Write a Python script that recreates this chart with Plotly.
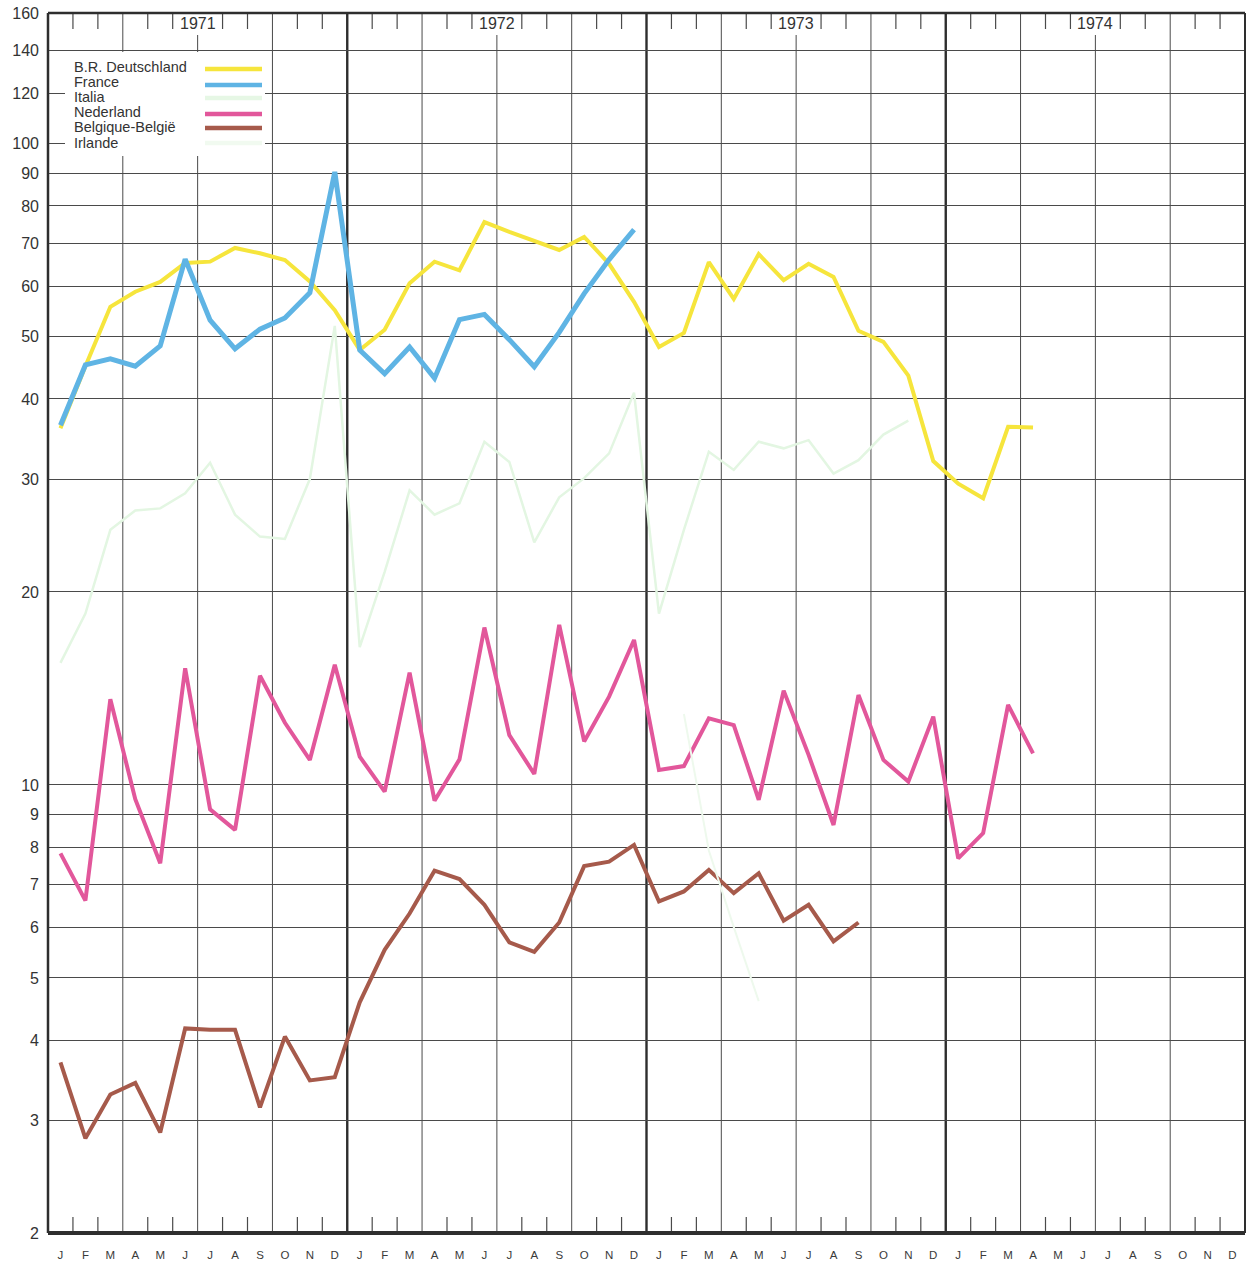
import math
import plotly.graph_objects as go

# ---- data: monthly index values, January 1971 to December 1974 ----
MONTHS = ["J", "F", "M", "A", "M", "J", "J", "A", "S", "O", "N", "D"]
YEARS = ["1971", "1972", "1973", "1974"]

deutschland_1971 = [36.0, 45.0, 55.7, 58.8, 60.9, 65.2, 65.5, 68.8, 67.5, 65.9, 61.0, 55.0]
deutschland_1972 = [47.7, 51.3, 60.6, 65.5, 63.5, 75.5, 72.9, 70.6, 68.3, 71.6, 65.0, 56.7]
deutschland_1973 = [48.2, 50.7, 65.4, 57.3, 67.3, 61.3, 65.0, 62.0, 51.1, 49.1, 43.5, 32.0]
deutschland_1974 = [29.5, 28.0, 36.2, 36.1]

france_1971 = [36.4, 45.2, 46.2, 45.0, 48.4, 66.1, 53.1, 47.9, 51.4, 53.5, 58.6, 90.4]
france_1972 = [47.7, 43.8, 48.2, 43.1, 53.2, 54.2, 49.5, 44.9, 50.8, 58.4, 66.0, 73.5]

italia_1971 = [15.5, 18.5, 25.0, 26.8, 27.0, 28.5, 31.8, 26.4, 24.4, 24.2, 30.0, 52.0]
italia_1972 = [16.4, 21.5, 28.8, 26.4, 27.5, 34.3, 31.9, 23.9, 28.1, 30.1, 32.9, 40.9]
italia_1973 = [18.5, 25.0, 33.1, 31.0, 34.3, 33.5, 34.5, 30.6, 32.1, 35.2, 37.0]

nederland_1971 = [7.82, 6.6, 13.6, 9.5, 7.55, 15.2, 9.16, 8.51, 14.8, 12.5, 10.94, 15.4]
nederland_1972 = [11.07, 9.76, 14.97, 9.45, 10.96, 17.6, 11.96, 10.4, 17.77, 11.69, 13.73, 16.83]
nederland_1973 = [10.55, 10.7, 12.7, 12.4, 9.48, 14.03, 11.14, 8.66, 13.81, 10.94, 10.12, 12.78]
nederland_1974 = [7.68, 8.41, 13.33, 11.2]

belgique_1971 = [3.69, 2.81, 3.29, 3.43, 2.87, 4.17, 4.15, 4.15, 3.14, 4.05, 3.46, 3.50]
belgique_1972 = [4.58, 5.53, 6.3, 7.35, 7.13, 6.5, 5.68, 5.49, 6.1, 7.47, 7.59, 8.06]
belgique_1973 = [6.58, 6.82, 7.37, 6.78, 7.28, 6.14, 6.50, 5.70, 6.10]

irlande_months = [25, 26, 27, 28]
irlande_values = [12.9, 7.9, 6.0, 4.6]

Y_TICKS = [2, 3, 4, 5, 6, 7, 8, 9, 10, 20, 30, 40, 50, 60, 70, 80, 90, 100, 120, 140, 160]

N_MONTHS = 48


def full_series(*parts):
    vals = []
    for p in parts:
        vals.extend(p)
    return vals + [None] * (N_MONTHS - len(vals))


deutschland = full_series(deutschland_1971, deutschland_1972, deutschland_1973, deutschland_1974)
france = full_series(france_1971, france_1972)
italia = full_series(italia_1971, italia_1972, italia_1973)
nederland = full_series(nederland_1971, nederland_1972, nederland_1973, nederland_1974)
belgique = full_series(belgique_1971, belgique_1972, belgique_1973)
irlande = [None] * N_MONTHS
for m, v in zip(irlande_months, irlande_values):
    irlande[m] = v

x = list(range(N_MONTHS))

# name, values, colour, line width, legend swatch colour
series = [
    ("B.R. Deutschland", deutschland, "#f6e53c", 4, "#f6e53c"),
    ("France", france, "#5fb4e4", 5, "#5fb4e4"),
    ("Italia", italia, "#e3f6e2", 2.5, "#e6f7e5"),
    ("Nederland", nederland, "#e2579b", 4, "#e2579b"),
    ("Belgique-België", belgique, "#a65a4b", 4, "#a65a4b"),
    ("Irlande", irlande, "#eef9ed", 2, "#f1faf0"),
]

fig = go.Figure()
for name, vals, color, width, _ in series:
    fig.add_trace(go.Scatter(
        x=x, y=vals, mode="lines", name=name,
        line=dict(color=color, width=width),
        connectgaps=False, showlegend=False, hoverinfo="skip",
    ))

# ---- layout geometry ----
W, H = 1252, 1263
M_L, M_R, M_T, M_B = 48, 7, 13, 30
PW = W - M_L - M_R
PH = H - M_T - M_B

GRID = "#4a4a4a"
TEXT = "#333333"
FONT = "Liberation Sans, Arial, Helvetica, sans-serif"


def px_x(px):
    return (px - M_L) / PW


def px_y(py):
    return (M_T + PH - py) / PH


shapes = []

# vertical quarter lines and heavier year lines
for q in range(1, 16):
    b = 3 * q - 0.5
    year_line = (q % 4 == 0)
    shapes.append(dict(
        type="line", xref="x", yref="paper", x0=b, x1=b, y0=0, y1=1,
        line=dict(color="#2e2e2e" if year_line else GRID, width=2.4 if year_line else 1),
        layer="between",
    ))

# short month ticks along the top and bottom edges
tick_len = 16 / PH
for m in range(1, N_MONTHS):
    if m % 3 == 0:
        continue
    b = m - 0.5
    for y0, y1 in ((0, tick_len), (1 - tick_len, 1)):
        shapes.append(dict(
            type="line", xref="x", yref="paper", x0=b, x1=b, y0=y0, y1=y1,
            line=dict(color=GRID, width=1.2), layer="between",
        ))

# white patches behind the year captions
for i in range(len(YEARS)):
    c = 12 * i + 5.5
    shapes.append(dict(
        type="rect", xref="x", yref="paper", x0=c - 0.8, x1=c + 0.8,
        y0=px_y(35), y1=1, fillcolor="white", line=dict(width=0), layer="above",
    ))

# legend panel
shapes.append(dict(
    type="rect", xref="paper", yref="paper",
    x0=px_x(65), x1=px_x(265), y0=px_y(156), y1=px_y(52),
    fillcolor="white", line=dict(width=0), layer="above",
))

# frame
shapes += [
    dict(type="line", xref="paper", yref="paper", x0=0, x1=0, y0=0, y1=1,
         line=dict(color="#2e2e2e", width=2.5), layer="above"),
    dict(type="line", xref="paper", yref="paper", x0=1, x1=1, y0=0, y1=1,
         line=dict(color="#2e2e2e", width=2), layer="above"),
    dict(type="line", xref="paper", yref="paper", x0=0, x1=1, y0=1, y1=1,
         line=dict(color="#2e2e2e", width=2.5), layer="above"),
    dict(type="line", xref="paper", yref="paper", x0=0, x1=1, y0=0, y1=0,
         line=dict(color="#2e2e2e", width=4), layer="above"),
]

legend_text_rows = [67, 82, 97, 112, 127, 143]
legend_line_rows = [69, 85, 98, 114, 128, 143]
annotations = []
for (name, vals, color, width, swatch), ty, ly in zip(series, legend_text_rows, legend_line_rows):
    annotations.append(dict(
        text=name, xref="paper", yref="paper", x=px_x(72), y=px_y(ty),
        xanchor="left", yanchor="middle", showarrow=False,
        font=dict(family=FONT, size=14.5, color=TEXT),
    ))
    shapes.append(dict(
        type="line", xref="paper", yref="paper",
        x0=px_x(205), x1=px_x(262), y0=px_y(ly), y1=px_y(ly),
        line=dict(color=swatch, width=4.5), layer="above",
    ))

# year captions on the top edge
for i, yr in enumerate(YEARS):
    annotations.append(dict(
        text=yr, xref="x", yref="paper", x=12 * i + 5.5, y=px_y(23),
        xanchor="center", yanchor="middle", showarrow=False,
        font=dict(family=FONT, size=16, color=TEXT),
    ))

fig.update_layout(
    width=W, height=H,
    margin=dict(l=M_L, r=M_R, t=M_T, b=M_B, pad=0, autoexpand=False),
    paper_bgcolor="white", plot_bgcolor="white",
    font=dict(family=FONT, color=TEXT),
    shapes=shapes, annotations=annotations,
    xaxis=dict(
        range=[-0.5, N_MONTHS - 0.5], tickvals=x, ticktext=MONTHS * 4,
        tickfont=dict(size=11.5, color="#3a3a3a"), ticks="",
        showgrid=False, zeroline=False, showline=False, automargin=False,
        ticklabelstandoff=13, fixedrange=True,
    ),
    yaxis=dict(
        type="log", range=[math.log10(2), math.log10(160)],
        tickvals=Y_TICKS, ticktext=[str(v) for v in Y_TICKS],
        tickfont=dict(size=16, color=TEXT), ticks="",
        showgrid=True, gridcolor=GRID, gridwidth=1, automargin=False,
        zeroline=False, showline=False, ticklabelstandoff=8, fixedrange=True,
    ),
)

fig.write_html("out.html")
